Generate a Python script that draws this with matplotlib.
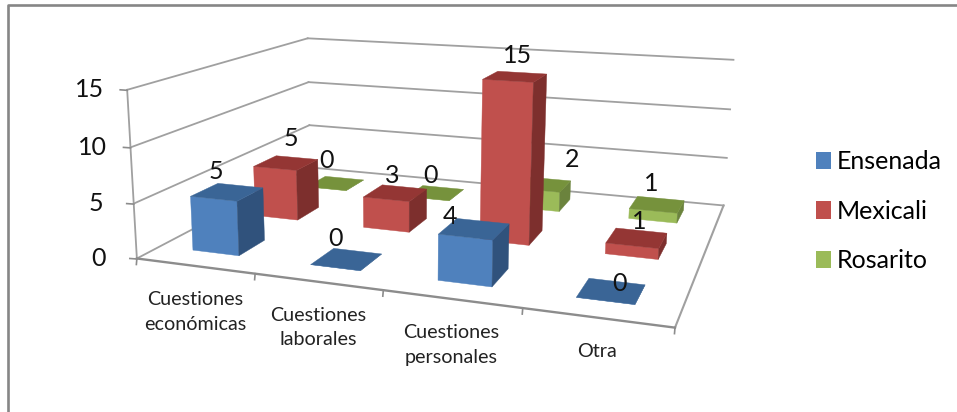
import numpy as np
import matplotlib
matplotlib.use("Agg")
import matplotlib.pyplot as plt
from matplotlib.patches import Polygon, Rectangle

plt.rcParams["font.family"] = ["Lato", "DejaVu Sans"]

categories = ["Cuestiones\neconómicas", "Cuestiones\nlaborales", "Cuestiones\npersonales", "Otra"]
series_names = ["Ensenada", "Mexicali", "Rosarito"]
ensenada = [5, 0, 4, 0]
mexicali = [5, 3, 15, 1]
rosarito = [0, 0, 2, 1]
value_ticks = [0, 5, 10, 15]

series_values = [ensenada, mexicali, rosarito]
face_colors = [
    ("#4F81BD", "#3A6596", "#30527C"),
    ("#C0504D", "#943634", "#7D2F2D"),
    ("#9BBB59", "#76923C", "#6B833D"),
]
# ajuste en pixeles de cada etiqueta (Excel las coloca a su manera)
label_nudge = [
    [(-11, 1), (-11, 1), (-24, 10), (8, 14)],
    [(5, -2), (-3, 4), (2, 1), (2, 5)],
    [(-9, -1), (-5, 5), (29, -3), (-6, 1)],
]
n_cat, n_ser, z_max = len(categories), len(series_names), value_ticks[-1]

# camara: esquinas de la caja en pixeles -> matriz de proyeccion
box_3d = [(0, 0, 0), (n_cat, 0, 0), (n_cat, n_ser, 0), (0, n_ser, 0),
          (0, 0, z_max), (n_cat, n_ser, z_max), (0, n_ser, z_max)]
box_px = [(138, 258), (675, 328), (724, 205), (309, 168),
          (126, 90), (733, 60), (309, 38)]
rows, rhs = [], []
for (x, y, z), (u, v) in zip(box_3d, box_px):
    rows.append([x, y, z, 1, 0, 0, 0, 0, -u * x, -u * y, -u * z])
    rows.append([0, 0, 0, 0, x, y, z, 1, -v * x, -v * y, -v * z])
    rhs += [u, v]
sol = np.linalg.lstsq(np.array(rows, float), np.array(rhs, float), rcond=None)[0]
P = np.append(sol, 1.0).reshape(3, 4)


def proj(x, y, z):
    p = P @ np.array([x, y, z, 1.0])
    return p[0] / p[2], p[1] / p[2]


fig = plt.figure(figsize=(9.57, 4.12), dpi=100)
ax = fig.add_axes([0, 0, 1, 1])
ax.set_xlim(0, 957)
ax.set_ylim(412, 0)
ax.axis("off")

# marco del grafico
ax.plot([8, 8, 957], [412, 5, 5], color="#868686", lw=1.9, zorder=1)

GRID = "#A0A0A0"
AXIS = "#8C8C8C"


def seg(a, b, color=GRID, lw=1.3, zorder=2):
    ax.plot(*zip(proj(*a), proj(*b)), color=color, lw=lw, zorder=zorder)


# paredes
for v in value_ticks:
    seg((0, 0, v), (0, n_ser, v))
    seg((0, n_ser, v), (n_cat, n_ser, v))
seg((0, 0, 0), (0, 0, z_max))
seg((n_cat, 0, 0), (n_cat, n_ser, 0), lw=1.5)
seg((0, 0, 0), (n_cat, 0, 0), color=AXIS, lw=1.7)

# marcas de los ejes
for v in value_ticks:
    u0, v0 = proj(0, 0, v)
    ax.plot([u0 - 7, u0], [v0, v0 + 0.5], color=AXIS, lw=1.2, zorder=2)
    ax.text(u0 - 38, v0, str(v), fontsize=18, ha="center", va="center", color="#111111")
for c in range(n_cat + 1):
    u0, v0 = proj(c, 0, 0)
    ax.plot([u0, u0 - 0.5], [v0, v0 + 6], color=AXIS, lw=1.2, zorder=2)

# barras, de atras hacia adelante
X0, X1 = 0.29, 0.69
Y0, Y1 = 0.32, 0.73
z = 3
for s in range(n_ser - 1, -1, -1):
    front, top, side = face_colors[s]
    for c in range(n_cat):
        h = series_values[s][c]
        x0, x1 = c + X0, c + X1
        y0, y1 = s + Y0, s + Y1
        faces = [
            ([(x0, y0, 0), (x1, y0, 0), (x1, y0, h), (x0, y0, h)], front),
            ([(x1, y0, 0), (x1, y1, 0), (x1, y1, h), (x1, y0, h)], side),
            ([(x0, y0, h), (x1, y0, h), (x1, y1, h), (x0, y1, h)], top),
        ]
        for pts, col in faces:
            ax.add_patch(Polygon([proj(*p) for p in pts], closed=True, facecolor=col,
                                 edgecolor=col, lw=0.3, zorder=z))
        z += 1

# etiquetas de datos
for s in range(n_ser):
    for c in range(n_cat):
        h = series_values[s][c]
        u0, v0 = proj(c + (X0 + X1) / 2, s + (Y0 + Y1) / 2, h)
        dx, dy = label_nudge[s][c]
        ax.text(u0 + dx, v0 - 22 + dy, str(h), fontsize=18, ha="center", va="center",
                color="#111111", zorder=100)

# categorias
for c, name in enumerate(categories):
    u0, v0 = proj(c + 0.5, 0, 0)
    ax.text(u0, v0 + 25, name, fontsize=14.2, ha="center", va="top",
            color="#222222", linespacing=1.55, zorder=100)

# leyenda
handles = [Rectangle((0, 0), 1, 1, facecolor=f[0]) for f in face_colors]
ax.legend(handles, series_names, loc="center left", bbox_to_anchor=(0.853, 0.487),
          frameon=False, fontsize=18, handlelength=0.58, handleheight=0.7,
          handletextpad=0.22, labelspacing=1.06, borderpad=0, borderaxespad=0)

fig.savefig("out.png", dpi=100)
